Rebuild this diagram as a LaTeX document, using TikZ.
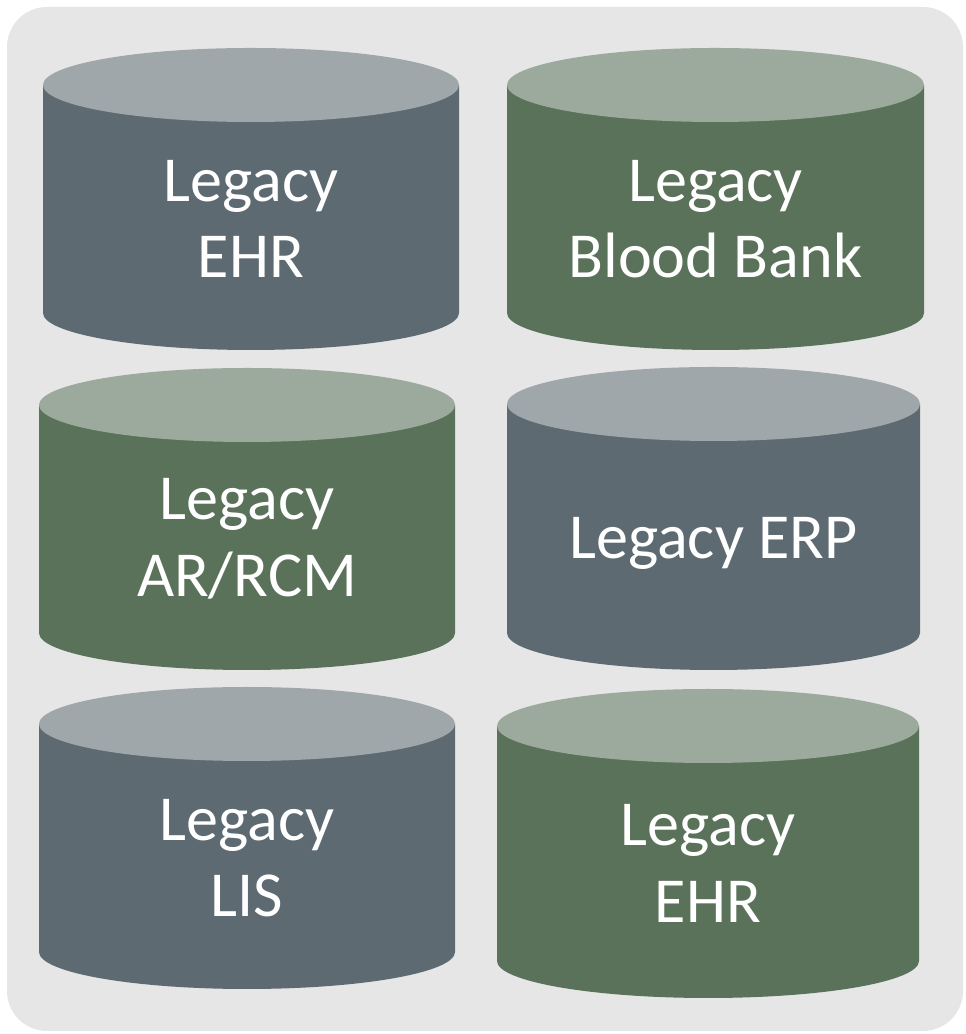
\documentclass[tikz,border=0pt]{standalone}
\usepackage{fontspec}
\setmainfont{Carlito}
\usepackage{tikz}
\definecolor{panel}{HTML}{E6E6E6}
\definecolor{slateside}{HTML}{5E6A72}
\definecolor{slatetop}{HTML}{A0A7AA}
\definecolor{greenside}{HTML}{5A7259}
\definecolor{greentop}{HTML}{9BAA9C}
\tikzset{dbtext/.style={text=white, align=center, font=\fontsize{36.5}{43.5}\selectfont}}
% [#1 label shift], #2 name, #3 left, #4 right, #5 top, #6 bottom, #7 side, #8 lid, #9 label
\newcommand*\legacydb[9][0]{
        \fill[#7] (#3,#6) arc[start angle=180, end angle=360, x radius={(#4-#3)/2}, y radius=37]
                -- (#4,#5) -- (#3,#5) -- cycle;
        \fill[#8] ({(#3+#4)/2},#5) ellipse[x radius={(#4-#3)/2}, y radius=37];
        \node[dbtext] (#2) at ({(#3+#4)/2},{(#5+#6)/2-20+#1}) {#9};}

\begin{document}
\begin{tikzpicture}[x=0.02cm, y=0.02cm]
        \useasboundingbox (0,0) rectangle (966,1034);
        \fill[panel, rounded corners=0.8cm] (7,3) rectangle (963,1027);

        \legacydb{ehr}{43}{459}{949}{721}{slateside}{slatetop}{Legacy\\EHR}
        \legacydb{bank}{507}{924}{949}{721}{greenside}{greentop}{Legacy\\Blood Bank}
        \legacydb{rcm}{39}{455}{629}{401}{greenside}{greentop}{Legacy\\AR/RCM}
        \legacydb[-5]{erp}{507}{920}{630}{401}{slateside}{slatetop}{Legacy ERP}
        \legacydb{lis}{39}{455}{310}{82}{slateside}{slatetop}{Legacy\\LIS}
        \legacydb{ehrb}{497}{919}{308}{73}{greenside}{greentop}{Legacy\\EHR}
\end{tikzpicture}
\end{document}
